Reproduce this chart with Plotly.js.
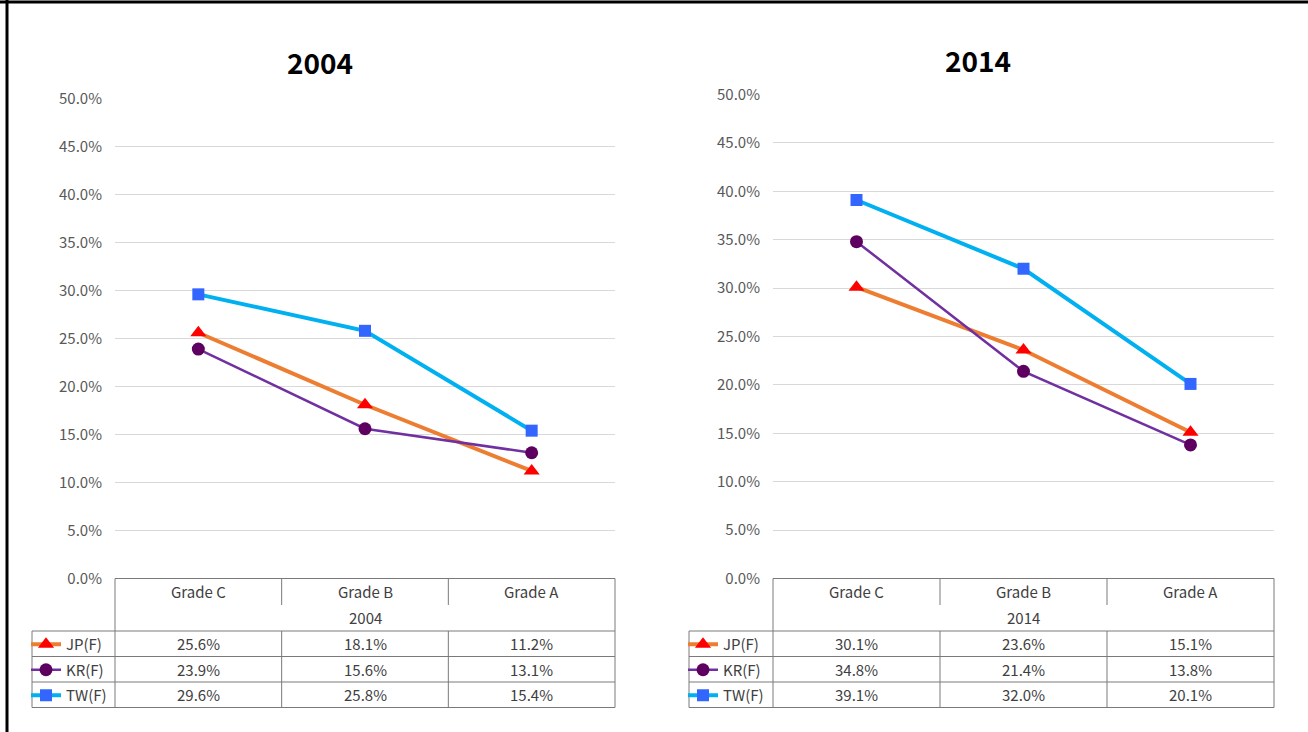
<!DOCTYPE html>
<html>
<head>
<meta charset="utf-8">
<script src="https://cdn.plot.ly/plotly-3.0.1.min.js"></script>
<style>
html,body{margin:0;padding:0;background:#fff;}
#chart{width:1308px;height:732px;}
</style>
</head>
<body>
<div id="chart"></div>
<script>
// ---------- data ----------
const categories = ['Grade C', 'Grade B', 'Grade A'];
const seriesNames = ['JP(F)', 'KR(F)', 'TW(F)'];
const years = ['2004', '2014'];
const jp2004 = [25.6, 18.1, 11.2];
const kr2004 = [23.9, 15.6, 13.1];
const tw2004 = [29.6, 25.8, 15.4];
const jp2014 = [30.1, 23.6, 15.1];
const kr2014 = [34.8, 21.4, 13.8];
const tw2014 = [39.1, 32.0, 20.1];
const yTickMax = 50;
const yTickStep = 5;

// ---------- layout helpers ----------
const W = 1308, H = 732;
const fx = x => x / W;
const fy = y => 1 - y / H;
const FONT = '"Noto Sans CJK JP", "Noto Sans", sans-serif';
const TXT = '#404040';
const TABLE_LINE = '#7a7a7a';
const FS = 15;

const styles = [
  {line: {color: '#ED7D31', width: 4}, marker: {symbol: 'triangle-up', color: '#FF0000', size: 14}},
  {line: {color: '#7030A0', width: 2.5}, marker: {symbol: 'circle', color: '#5E0060', size: 13}},
  {line: {color: '#00B0F0', width: 4}, marker: {symbol: 'square', color: '#3366FF', size: 12}}
];

const panels = [
  {year: years[0], values: [jp2004, kr2004, tw2004], xa: 'x', ya: 'y', leg: 'legend',
   left: 115, right: 615, top: 98.5, bottom: 578.5, legCol: 32, titleX: 320, titleY: 62},
  {year: years[1], values: [jp2014, kr2014, tw2014], xa: 'x2', ya: 'y2', leg: 'legend2',
   left: 773, right: 1274, top: 94.5, bottom: 578.5, legCol: 689, titleX: 978, titleY: 60}
];

const headerMid = 605, headerBottom = 631;
const rowLines = [631, 656.5, 682, 707.5];

const traces = [];
const shapes = [];
const annotations = [];
const layout = {
  width: W, height: H,
  margin: {l: 0, r: 0, t: 0, b: 0},
  paper_bgcolor: '#fff', plot_bgcolor: 'rgba(0,0,0,0)',
  font: {family: FONT, color: TXT, size: FS},
  showlegend: true,
  shapes: shapes,
  annotations: annotations
};

function line(x0, y0, x1, y1, color, width) {
  shapes.push({type: 'line', xref: 'paper', yref: 'paper',
    x0: fx(x0), y0: fy(y0), x1: fx(x1), y1: fy(y1),
    line: {color: color || TABLE_LINE, width: width || 1}});
}

panels.forEach((p, pi) => {
  const sfx = pi === 0 ? '' : '2';
  layout['xaxis' + sfx] = {
    domain: [fx(p.left), fx(p.right)], anchor: 'y' + sfx,
    type: 'category', range: [-0.5, categories.length - 0.5],
    showgrid: false, zeroline: false, showline: false, showticklabels: false, ticks: ''
  };
  layout['yaxis' + sfx] = {
    domain: [fy(p.bottom), fy(p.top)], anchor: 'x' + sfx,
    range: [0, yTickMax], dtick: yTickStep, tick0: 0,
    tickformat: '.1f', ticksuffix: '%',
    gridcolor: '#D9D9D9', gridwidth: 1, zeroline: false, showline: false, ticks: '',
    ticklabelstandoff: 12,
    tickfont: {family: FONT, size: FS, color: '#595959'}
  };
  layout[p.leg] = {
    x: fx(p.legCol - 6), y: fy(628), xanchor: 'left', yanchor: 'top',
    bgcolor: 'rgba(0,0,0,0)', borderwidth: 0,
    traceorder: 'grouped', tracegroupgap: 3,
    font: {family: FONT, size: FS, color: TXT},
    itemwidth: 30
  };

  seriesNames.forEach((name, si) => {
    traces.push({
      type: 'scatter', mode: 'lines+markers',
      x: categories, y: p.values[si],
      xaxis: p.xa, yaxis: p.ya,
      name: name, legend: p.leg, legendgroup: name + p.year,
      line: styles[si].line, marker: styles[si].marker,
      hoverinfo: 'skip'
    });
  });

  // title
  annotations.push({xref: 'paper', yref: 'paper', x: fx(p.titleX), y: fy(p.titleY),
    text: p.year, showarrow: false, xanchor: 'center', yanchor: 'middle',
    font: {family: FONT, size: 28, color: '#000', weight: 700}});

  // ---- data table ----
  const colW = (p.right - p.left) / categories.length;
  line(p.left, p.bottom, p.right, p.bottom);
  line(p.left, p.bottom, p.left, rowLines[rowLines.length - 1]);
  line(p.right, p.bottom, p.right, rowLines[rowLines.length - 1]);
  line(p.legCol, rowLines[0], p.legCol, rowLines[rowLines.length - 1]);
  rowLines.forEach(y => line(p.legCol, y, p.right, y));
  for (let c = 1; c < categories.length; c++) {
    const x = p.left + c * colW;
    line(x, p.bottom, x, headerMid);
    line(x, headerBottom, x, rowLines[rowLines.length - 1]);
  }
  categories.forEach(cat => {
    annotations.push({xref: p.xa, yref: 'paper', x: cat, y: fy(591),
      text: cat, showarrow: false, xanchor: 'center', yanchor: 'middle',
      font: {family: FONT, size: FS, color: TXT}});
  });
  annotations.push({xref: 'paper', yref: 'paper', x: fx((p.left + p.right) / 2), y: fy(617.5),
    text: p.year, showarrow: false, xanchor: 'center', yanchor: 'middle',
    font: {family: FONT, size: FS, color: TXT}});
  p.values.forEach((vals, si) => {
    const yc = (rowLines[si] + rowLines[si + 1]) / 2;
    vals.forEach((v, ci) => {
      annotations.push({xref: p.xa, yref: 'paper', x: categories[ci], y: fy(yc),
        text: v.toFixed(1) + '%', showarrow: false, xanchor: 'center', yanchor: 'middle',
        font: {family: FONT, size: FS, color: TXT}});
    });
  });
});

// outer frame edges (top and left) as in the screenshot
line(0, 2, W, 2, '#000', 3);
line(7, 0, 7, H, '#000', 3);

Plotly.newPlot('chart', traces, layout, {staticPlot: true, displayModeBar: false});
</script>
</body>
</html>
